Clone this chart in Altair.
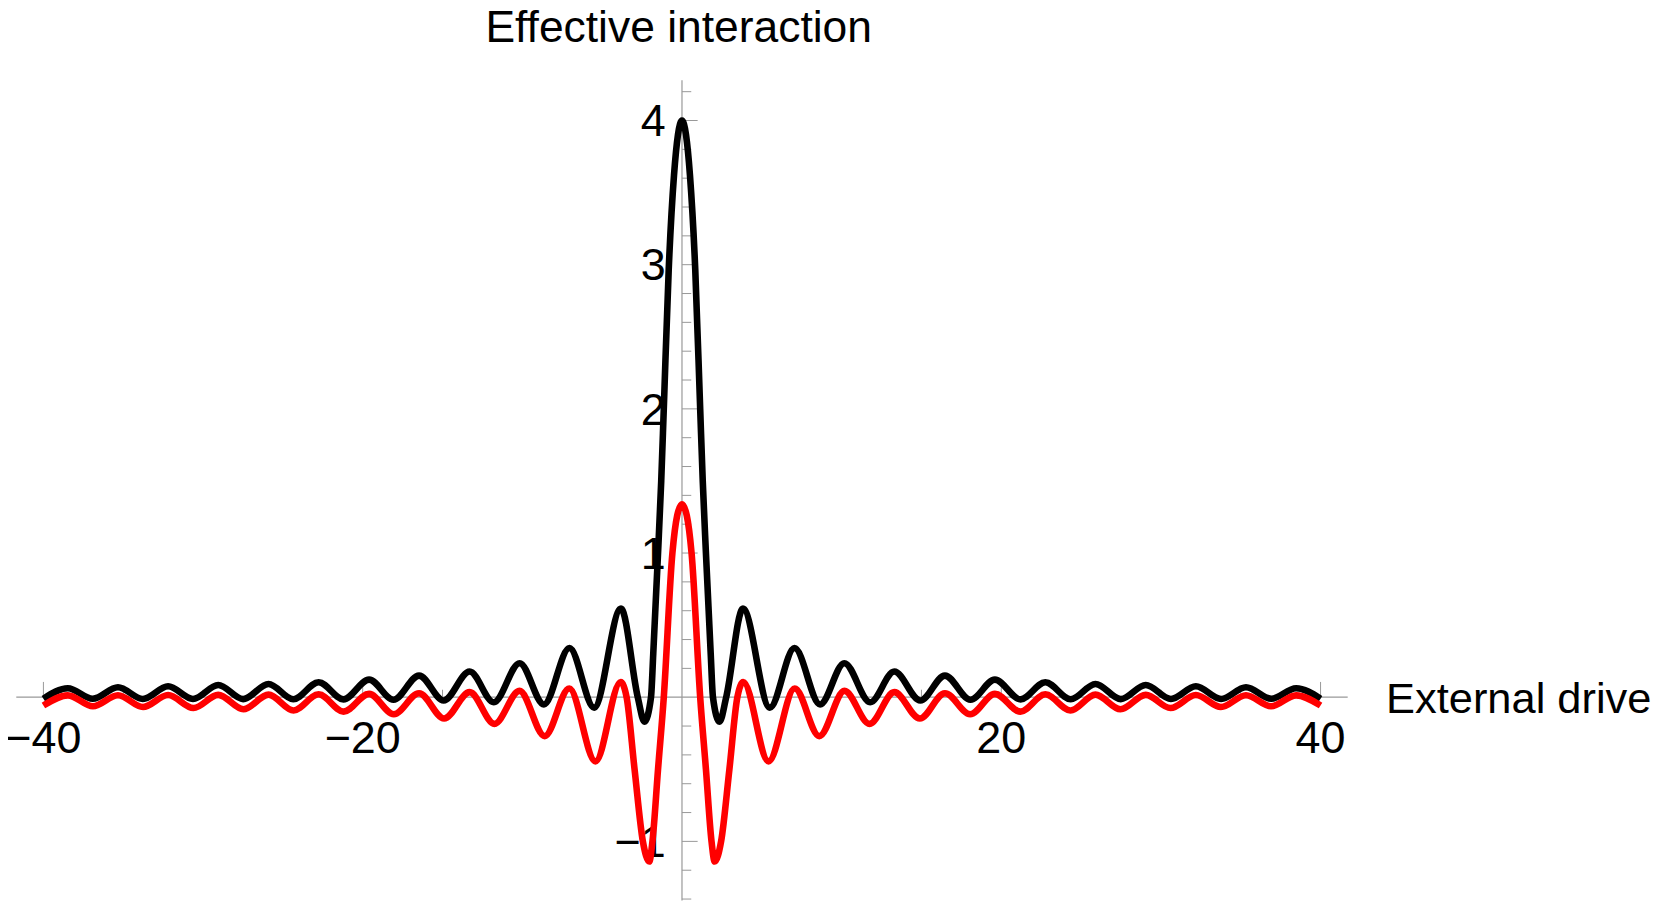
import altair as alt
import pandas as pd

# ---------------- data ----------------
black_x = [-40, -38.47, -36.91, -35.33, -33.77, -32.19, -30.63, -29.05, -27.49, -25.9,
           -24.35, -22.76, -21.21, -19.6, -18.07, -16.47, -14.93, -13.3, -11.79, -10.17,
           -8.65, -7.05, -5.5, -3.82, -2.77, -2.35, -1.94, -1.8, -1.5, -1.3, -1.14, -0.83, -0.5,
           0,
           0.5, 0.83, 1.14, 1.3, 1.5, 1.8, 1.94, 2.35, 2.77, 3.82, 5.5, 7.05, 8.65,
           10.17, 11.79, 13.3, 14.93, 16.47, 18.07, 19.6, 21.21, 22.76, 24.35, 25.9,
           27.49, 29.05, 30.63, 32.19, 33.77, 35.33, 36.91, 38.47, 40]
black_y = [-0.01, 0.062, -0.011, 0.069, -0.012, 0.076, -0.012, 0.085, -0.013, 0.092,
           -0.014, 0.104, -0.015, 0.122, -0.018, 0.15, -0.023, 0.178, -0.035, 0.236,
           -0.05, 0.341, -0.072, 0.615, 0.0, -0.17, 0.0, 0.3, 1.0, 1.5, 2.0, 2.97, 3.62,
           4.0,
           3.62, 2.97, 2.0, 1.5, 1.0, 0.3, 0.0, -0.17, 0.0, 0.615, -0.072, 0.341, -0.05,
           0.236, -0.035, 0.178, -0.023, 0.15, -0.018, 0.122, -0.015, 0.104, -0.014, 0.092,
           -0.013, 0.085, -0.012, 0.076, -0.012, 0.069, -0.011, 0.062, -0.01]

red_x = [-40, -38.47, -36.9, -35.33, -33.76, -32.19, -30.6, -29.05, -27.47, -25.9,
         -24.33, -22.76, -21.2, -19.6, -18.05, -16.47, -14.9, -13.3, -11.75, -10.18,
         -8.6, -7.06, -5.42, -3.84, -3.47, -2.97, -2.45, -2.05, -1.85, -1.5, -1.14, -0.6, -0.3,
         0,
         0.3, 0.6, 1.14, 1.5, 1.85, 2.05, 2.45, 2.97, 3.47, 3.84, 5.42, 7.06, 8.6,
         10.18, 11.75, 13.3, 14.9, 16.47, 18.05, 19.6, 21.2, 22.76, 24.33, 25.9,
         27.47, 29.05, 30.6, 32.19, 33.76, 35.33, 36.9, 38.47, 40]
red_y = [-0.058, 0.013, -0.063, 0.014, -0.068, 0.015, -0.075, 0.016, -0.084, 0.018,
         -0.092, 0.02, -0.1, 0.023, -0.118, 0.028, -0.148, 0.035, -0.185, 0.044,
         -0.27, 0.06, -0.445, 0.105, 0.0, -0.5, -1.0, -1.14, -1.0, -0.5, 0.0, 1.0, 1.26,
         1.338,
         1.26, 1.0, 0.0, -0.5, -1.0, -1.14, -1.0, -0.5, 0.0, 0.105, -0.445, 0.06, -0.27,
         0.044, -0.185, 0.035, -0.148, 0.028, -0.118, 0.023, -0.1, 0.02, -0.092, 0.018,
         -0.084, 0.016, -0.075, 0.015, -0.068, 0.014, -0.063, 0.013, -0.058]

x_major_ticks = [-40, -20, 20, 40]
x_tick_labels = ["\u221240", "\u221220", "20", "40"]
x_minor_ticks = [-35, -30, -25, -15, -10, -5, 5, 10, 15, 25, 30, 35]
y_major_ticks = [-1, 1, 2, 3, 4]
y_tick_labels = ["\u22121", "1", "2", "3", "4"]
y_minor_ticks = [-1.4, -1.2, -0.8, -0.6, -0.4, -0.2, 0.2, 0.4, 0.6, 0.8,
                 1.2, 1.4, 1.6, 1.8, 2.2, 2.4, 2.6, 2.8, 3.2, 3.4, 3.6, 3.8, 4.2]
x_title = "External drive"
y_title = "Effective interaction"

# ---------------- layout / style ----------------
X_DOMAIN = [-41.7, 41.7]
Y_DOMAIN = [-1.41, 4.28]
PX_X = 16.0
PX_Y = 144.5
W = (X_DOMAIN[1] - X_DOMAIN[0]) * PX_X
H = (Y_DOMAIN[1] - Y_DOMAIN[0]) * PX_Y
FONT = "Liberation Sans"
AXIS_COLOR = "#999999"
LINE_W = 6.6

xs = alt.Scale(domain=X_DOMAIN, nice=False, zero=False)
ys = alt.Scale(domain=Y_DOMAIN, nice=False, zero=False)
one = pd.DataFrame({"k": [0]})


def xd(v):
    return alt.XDatum(v, type="quantitative", scale=xs, axis=None)


def yd(v):
    return alt.YDatum(v, type="quantitative", scale=ys, axis=None)


def curve(xv, yv, color):
    df = pd.DataFrame({"x": xv, "y": yv})
    return alt.Chart(df).mark_line(color=color, strokeWidth=LINE_W,
                                   interpolate="monotone").encode(
        x=alt.X("x:Q", scale=xs, axis=None),
        y=alt.Y("y:Q", scale=ys, axis=None),
    )


x_axis = alt.Chart(one).mark_rule(color=AXIS_COLOR, strokeWidth=1.2).encode(
    x=xd(X_DOMAIN[0]), x2=alt.X2Datum(X_DOMAIN[1]), y=yd(0))
y_axis = alt.Chart(one).mark_rule(color=AXIS_COLOR, strokeWidth=1.2).encode(
    y=yd(Y_DOMAIN[0]), y2=alt.Y2Datum(Y_DOMAIN[1]), x=xd(0))


def yticks(vals, length_px):
    df = pd.DataFrame({"v": vals})
    return alt.Chart(df).mark_rule(color=AXIS_COLOR, strokeWidth=1).encode(
        x=xd(0), x2=alt.X2Datum(length_px / PX_X),
        y=alt.Y("v:Q", scale=ys, axis=None))


def xticks(vals, length_px):
    df = pd.DataFrame({"v": vals})
    return alt.Chart(df).mark_rule(color=AXIS_COLOR, strokeWidth=1).encode(
        y=yd(0), y2=alt.Y2Datum(length_px / PX_Y),
        x=alt.X("v:Q", scale=xs, axis=None))


ylab = alt.Chart(pd.DataFrame({"v": y_major_ticks, "t": y_tick_labels})).mark_text(
    align="right", baseline="alphabetic", dx=-16.3, dy=15.7, fontSize=45,
    font=FONT, color="black").encode(
    x=xd(0), y=alt.Y("v:Q", scale=ys, axis=None), text="t:N")

xlab = alt.Chart(pd.DataFrame({"v": x_major_ticks, "t": x_tick_labels})).mark_text(
    align="center", baseline="alphabetic", dy=56, fontSize=45,
    font=FONT, color="black").encode(
    x=alt.X("v:Q", scale=xs, axis=None), y=yd(0), text="t:N")

ytitle = alt.Chart(one).mark_text(
    text=y_title, align="center", baseline="alphabetic", dx=-3.3, dy=-38,
    fontSize=44.5, font=FONT, color="black").encode(x=xd(0), y=yd(Y_DOMAIN[1]))

xtitle = alt.Chart(one).mark_text(
    text=x_title, align="left", baseline="alphabetic", dx=38.5, dy=16,
    fontSize=43.5, font=FONT, color="black").encode(x=xd(X_DOMAIN[1]), y=yd(0))

chart = alt.layer(
    x_axis, y_axis,
    xticks(x_major_ticks, 15.3), xticks(x_minor_ticks, 7.5),
    yticks(y_major_ticks, 15.7), yticks(y_minor_ticks, 9.3),
    ylab, xlab,
    curve(black_x, black_y, "#000000"),
    curve(red_x, red_y, "#ff0000"),
    ytitle, xtitle,
).properties(
    width=W, height=H,
    padding={"left": 8.3, "top": 71.3, "right": 306, "bottom": 0},
    autosize=alt.AutoSizeParams(type="none"),
    background="white",
).configure_view(stroke=None)

chart.save("out.html", embed_options={"renderer": "svg", "actions": False})
